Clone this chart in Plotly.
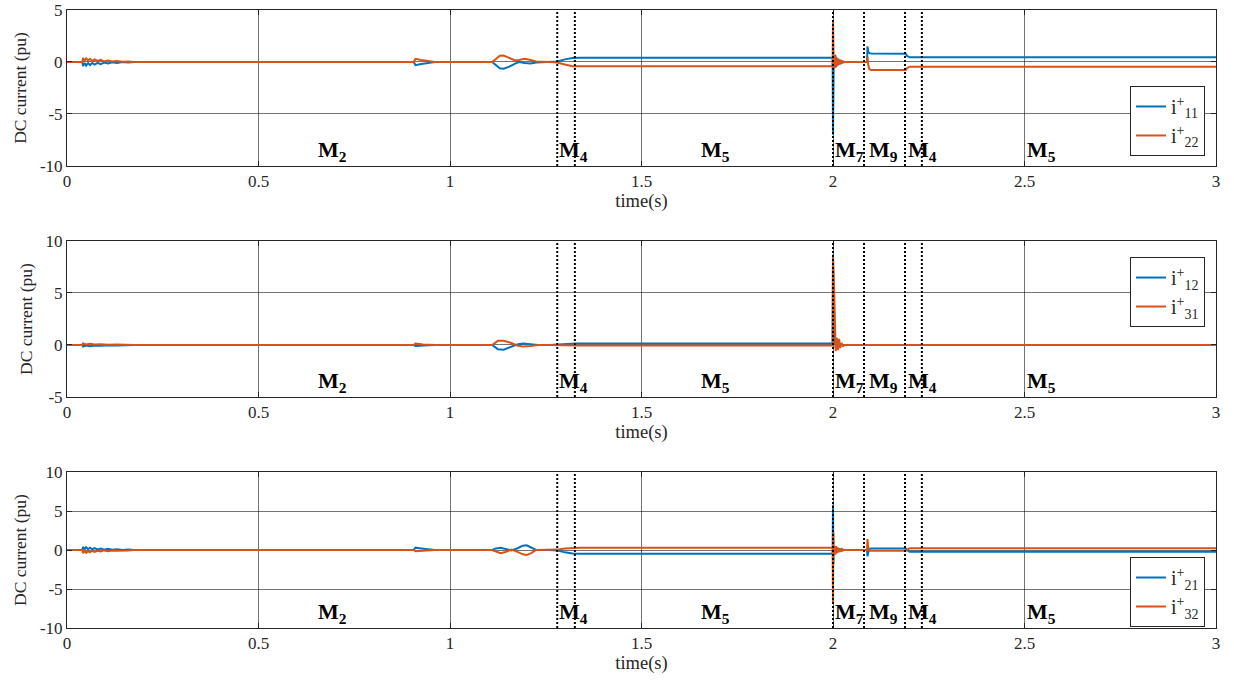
import plotly.graph_objects as go

# ---------------- data ----------------
t_p1 = [0, 0.040, 0.042, 0.046, 0.050, 0.055, 0.060, 0.066, 0.072, 0.080,
        0.088, 0.097, 0.107, 0.118, 0.130, 0.145, 0.160, 0.175,
        0.905, 0.910, 0.925, 0.945, 0.960,
        1.110, 1.120, 1.130, 1.140, 1.155, 1.170, 1.180, 1.195, 1.210, 1.225, 1.260,
        1.280, 1.300, 1.320, 1.340, 1.999, 2.000, 2.001, 2.002, 2.004, 2.006,
        2.008, 2.011, 2.014, 2.017, 2.020, 2.023, 2.026, 2.030, 2.089, 2.090,
        2.092, 2.095, 2.100, 2.190, 2.193, 2.197, 2.200, 3.000]
i11 = [0, 0, -0.4, -0.1, -0.35, -0.1, -0.3, -0.1, -0.25, -0.08,
       -0.2, -0.05, -0.15, -0.03, -0.1, 0, -0.05, 0,
       0, -0.3, -0.2, -0.05, 0,
       0, -0.3, -0.6, -0.65, -0.45, -0.15, 0.0, -0.1, -0.15, -0.05, 0.0,
       0.05, 0.25, 0.38, 0.4, 0.4, -7.0, -2.7, 0.5, -0.6, 0.7,
       -0.5, 0.4, -0.3, 0.25, -0.2, 0.1, -0.05, 0, 0, 1.5,
       1.0, 0.85, 0.82, 0.8, 0.6, 0.48, 0.45, 0.45]
i22 = [0, 0, 0.4, 0.1, 0.35, 0.15, 0.3, 0.1, 0.25, 0.1,
       0.2, 0.05, 0.15, 0.05, 0.1, 0.03, 0.05, 0,
       0, 0.3, 0.2, 0.05, 0,
       0, 0.3, 0.6, 0.62, 0.4, 0.15, 0.2, 0.3, 0.2, 0.05, 0.0,
       -0.05, -0.25, -0.4, -0.42, -0.42, 4.0, 1.5, -0.6, 0.6, -0.5,
       0.5, -0.4, 0.3, -0.25, 0.2, -0.1, 0.05, 0, 0, 0.5,
       -0.3, -0.7, -0.78, -0.78, -0.6, -0.48, -0.45, -0.45]

t_p2 = [0, 0.040, 0.042, 0.050, 0.060, 0.072, 0.088, 0.107, 0.130, 0.160, 0.175,
        0.905, 0.910, 0.930, 0.960,
        1.110, 1.125, 1.140, 1.160, 1.175, 1.190, 1.210, 1.230,
        1.260, 1.280, 1.300, 1.330, 1.999, 2.000, 2.001, 2.003, 2.005, 2.007,
        2.010, 2.013, 2.016, 2.019, 2.022, 2.026, 2.030, 3.000]
i12 = [0, 0, -0.15, -0.05, -0.12, -0.05, -0.08, -0.03, -0.05, 0, 0,
       0, -0.1, -0.05, 0,
       0, -0.4, -0.45, -0.2, 0.05, 0.15, 0.1, 0.0,
       0.0, 0.03, 0.1, 0.15, 0.15, 8.7, 5.0, 1.0, 0.2, -0.2,
       0.3, -0.1, 0.1, 0, 0, 0, 0, 0]
i31 = [0, 0, 0.15, 0.05, 0.12, 0.05, 0.08, 0.03, 0.05, 0, 0,
       0, 0.15, 0.05, 0,
       0, 0.4, 0.4, 0.2, -0.05, -0.15, -0.1, 0.0,
       0.0, -0.02, -0.05, -0.05, -0.05, 8.4, 7.5, 5.3, 0.8, -0.6,
       0.7, -0.5, 0.6, -0.3, 0.2, -0.1, 0, 0]

t_p3 = [0, 0.040, 0.042, 0.046, 0.050, 0.055, 0.060, 0.066, 0.072, 0.080,
        0.088, 0.097, 0.107, 0.118, 0.130, 0.145, 0.160, 0.175,
        0.905, 0.910, 0.925, 0.945, 0.960,
        1.110, 1.120, 1.132, 1.145, 1.160, 1.175, 1.190, 1.200, 1.212, 1.225, 1.260,
        1.280, 1.300, 1.320, 1.340, 1.999, 2.000, 2.001, 2.002, 2.004, 2.006,
        2.008, 2.011, 2.014, 2.017, 2.020, 2.023, 2.026, 2.030, 2.089, 2.090,
        2.092, 2.095, 2.100, 2.190, 2.193, 2.197, 2.200, 3.000]
i21 = [0, 0, 0.4, 0.1, 0.35, 0.1, 0.3, 0.1, 0.25, 0.08,
       0.2, 0.05, 0.15, 0.03, 0.1, 0, 0.05, 0,
       0, 0.3, 0.2, 0.05, 0,
       0, 0.2, 0.3, 0.15, -0.05, 0.2, 0.55, 0.6, 0.35, 0.0, 0.0,
       -0.05, -0.3, -0.45, -0.47, -0.47, 5.8, -1.8, 0.5, -0.5, 0.4,
       -0.4, 0.3, -0.25, 0.2, -0.15, 0.1, -0.05, 0, 0, -0.8,
       -0.3, 0.15, 0.2, 0.2, 0.0, -0.18, -0.22, -0.22]
i32 = [0, 0, -0.4, -0.1, -0.35, -0.15, -0.3, -0.1, -0.25, -0.1,
       -0.2, -0.05, -0.15, -0.05, -0.1, -0.03, -0.05, 0,
       0, -0.15, -0.1, -0.03, 0,
       0, -0.2, -0.4, -0.25, 0.05, -0.2, -0.55, -0.65, -0.4, 0.0, 0.0,
       0.05, 0.2, 0.28, 0.3, 0.3, -6.9, 2.2, -0.5, 0.5, -0.6,
       0.5, -0.4, 0.3, -0.25, 0.15, -0.1, 0.05, 0, 0, 1.4,
       0.3, -0.1, -0.1, -0.1, 0.05, 0.18, 0.22, 0.22]

# mode switching instants (dotted lines)
switch_times = [1.28, 1.326, 2.0, 2.081, 2.188, 2.232]
# mode labels: left position and subscript
mode_x = [0.65, 1.28, 1.65, 2.0, 2.09, 2.19, 2.5]
mode_sub = ["2", "4", "5", "7", "9", "4", "5"]
mode_y = [-8.6, -3.6, -8.1]

legend_names = [("i<sup>+</sup><sub>11</sub>", "i<sup>+</sup><sub>22</sub>"),
                ("i<sup>+</sup><sub>12</sub>", "i<sup>+</sup><sub>31</sub>"),
                ("i<sup>+</sup><sub>21</sub>", "i<sup>+</sup><sub>32</sub>")]
y_ranges = [[-10, 5], [-5, 10], [-10, 10]]
y_ticks = [[-10, -5, 0, 5], [-5, 0, 5, 10], [-10, -5, 0, 5, 10]]
x_ticks = [0, 0.5, 1, 1.5, 2, 2.5, 3]
x_ticktext = ["0", "0.5", "1", "1.5", "2", "2.5", "3"]

BLUE = "#0072BD"
ORANGE = "#D95319"
FONT = "Liberation Serif"

panels = [(t_p1, i11, i22), (t_p2, i12, i31), (t_p3, i21, i32)]
domains = [[0.7476, 1.0], [0.3738, 0.6262], [0.0, 0.2524]]
legend_y = [0.7638, 0.487, 0.0016]

fig = go.Figure()
for k, (t, a, b) in enumerate(panels):
    xa = "x" if k == 0 else f"x{k+1}"
    ya = "y" if k == 0 else f"y{k+1}"
    lg = "legend" if k == 0 else f"legend{k+1}"
    fig.add_trace(go.Scatter(x=t, y=a, mode="lines", name=legend_names[k][0],
                             line=dict(color=BLUE, width=2), xaxis=xa, yaxis=ya, legend=lg))
    fig.add_trace(go.Scatter(x=t, y=b, mode="lines", name=legend_names[k][1],
                             line=dict(color=ORANGE, width=2), xaxis=xa, yaxis=ya, legend=lg))

layout = dict(
    width=1234, height=682,
    margin=dict(l=67, r=18, t=10, b=54),
    paper_bgcolor="white", plot_bgcolor="white",
    font=dict(family=FONT, size=17, color="#262626"),
    showlegend=True,
)
axis_common = dict(showline=True, linecolor="#262626", linewidth=1, mirror="ticks",
                   ticks="inside", ticklen=5, tickcolor="#262626",
                   showgrid=True, gridcolor="rgba(0,0,0,0.55)", gridwidth=1,
                   zeroline=False, automargin=False,
                   tickfont=dict(family=FONT, size=17, color="#262626"))
for k in range(3):
    sfx = "" if k == 0 else str(k + 1)
    layout["xaxis" + sfx] = dict(axis_common, domain=[0, 1], anchor="y" + sfx, range=[0, 3],
                                 tickvals=x_ticks, ticktext=x_ticktext,
                                 title=dict(text="time(s)", standoff=1,
                                            font=dict(family=FONT, size=18.5, color="#262626")))
    layout["yaxis" + sfx] = dict(axis_common, domain=domains[k], anchor="x" + sfx,
                                 range=y_ranges[k], tickvals=y_ticks[k],
                                 ticktext=[str(v) for v in y_ticks[k]],
                                 title=dict(text="DC current (pu)", standoff=8,
                                            font=dict(family=FONT, size=17.5, color="#262626")))
    lg = "legend" if k == 0 else f"legend{k+1}"
    layout[lg] = dict(x=0.9904, y=legend_y[k], xanchor="right", yanchor="bottom",
                      xref="paper", yref="paper",
                      bgcolor="white", bordercolor="#262626", borderwidth=1,
                      font=dict(family=FONT, size=20, color="#262626"),
                      tracegroupgap=0, itemwidth=30)
fig.update_layout(**layout)

shapes = []
annotations = []
for k in range(3):
    sfx = "" if k == 0 else str(k + 1)
    for ts in switch_times:
        shapes.append(dict(type="line", xref="x" + sfx, yref=f"y{sfx} domain",
                           x0=ts, x1=ts, y0=0, y1=1,
                           line=dict(color="black", width=2, dash="2px,2px")))
    for xm, sub in zip(mode_x, mode_sub):
        annotations.append(dict(x=xm, y=mode_y[k], xref="x" + sfx, yref="y" + sfx,
                                text=f"<b>M<sub>{sub}</sub></b>", showarrow=False,
                                xanchor="left", yanchor="middle",
                                font=dict(family=FONT, size=22, color="black")))
fig.update_layout(shapes=shapes, annotations=annotations)

fig.write_html("out.html", config={"displayModeBar": False},
               post_script="document.body.style.margin='0';document.body.style.overflow='hidden';")
